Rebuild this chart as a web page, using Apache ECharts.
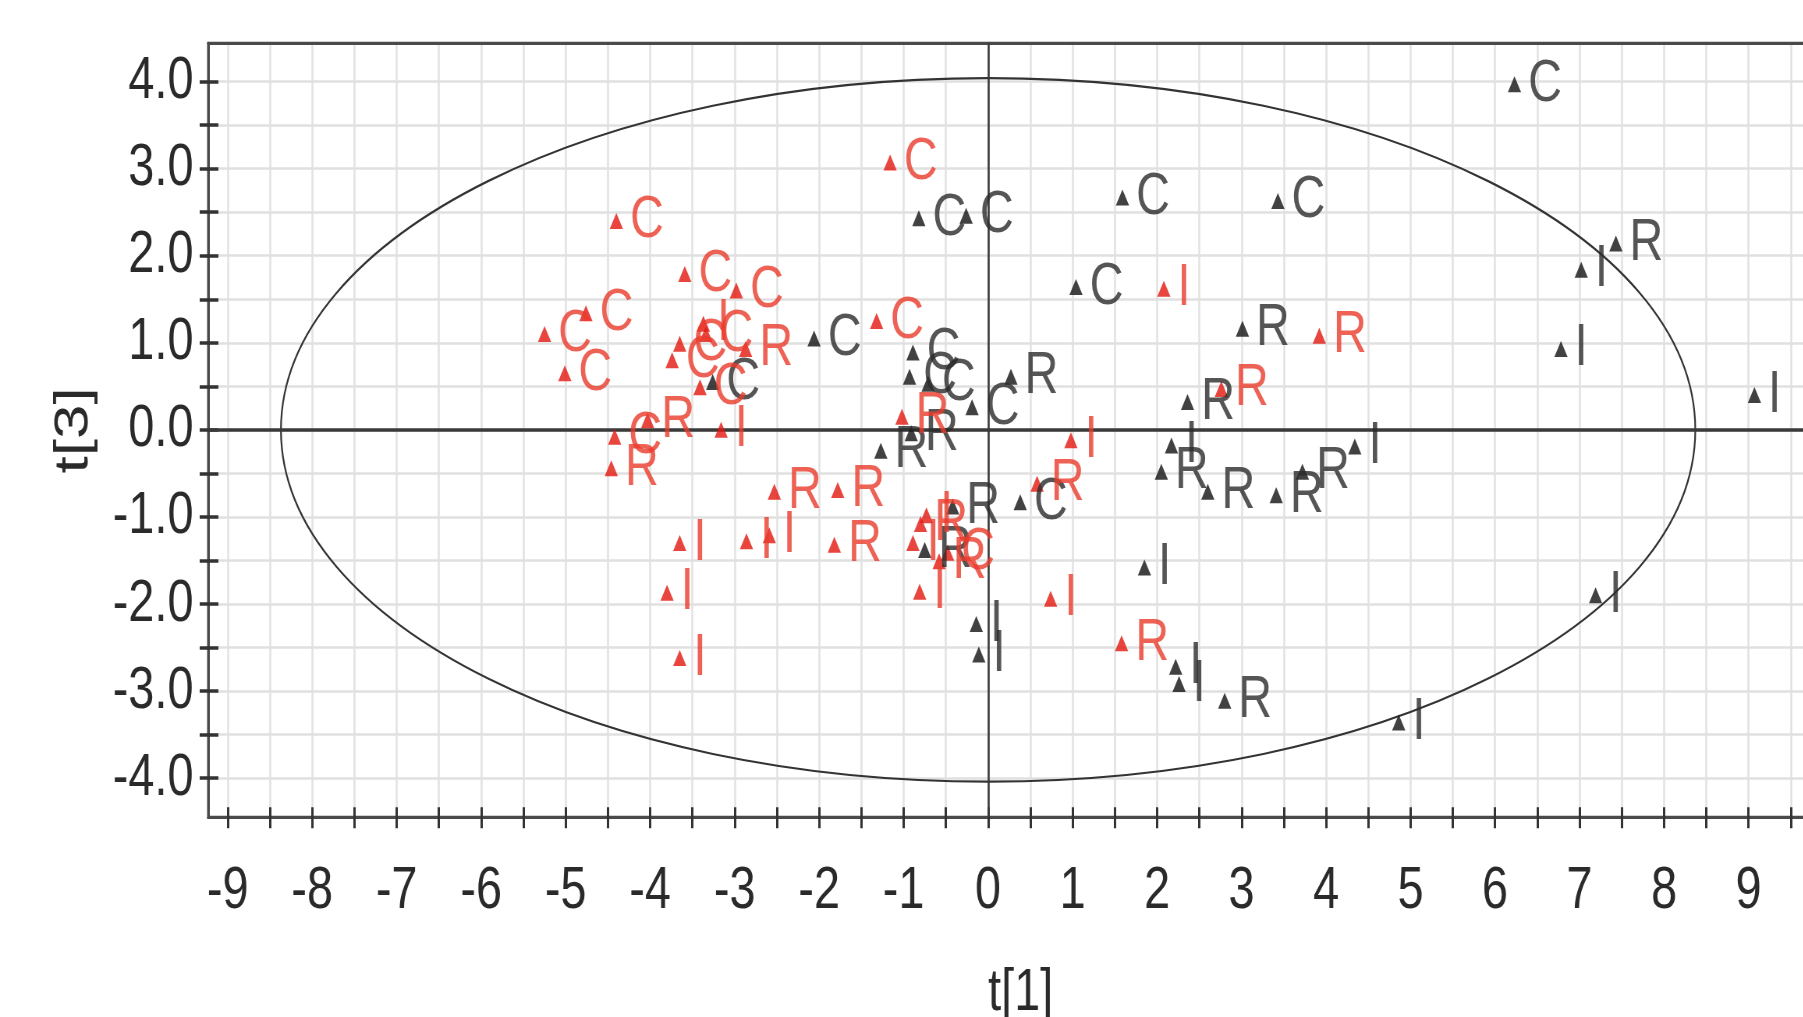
<!DOCTYPE html>
<html><head><meta charset="utf-8">
<script src="https://cdn.jsdelivr.net/npm/echarts@6/dist/echarts.min.js"></script>
<style>
html,body{margin:0;padding:0;background:#fff;overflow:hidden;width:1803px;height:1017px}
#chart{width:2312px;height:1017px;transform:scaleX(0.78);transform-origin:0 0}
</style>
</head><body><div id="chart"></div>
<script>
// Group 1 (red)
const redT1 = [-4.40,-3.59,-2.98,-4.76,-5.25,-5.01,-3.37,-3.34,-3.65,-3.74,-3.41,-2.87,-4.03,-4.42,-4.46,-3.16,-2.53,-2.86,-2.59,-3.65,-3.80,-3.65,-1.16,-1.32,-1.02,0.98,-1.78,-1.82,0.58,0.74,-0.73,-0.80,-0.89,-0.58,-0.48,-0.81,2.08,3.92,2.76,1.58];
const redT3 = [2.40,1.79,1.60,1.34,1.10,0.65,1.22,1.10,0.99,0.80,0.49,0.93,0.11,-0.08,-0.44,0.00,-0.71,-1.28,-1.21,-1.30,-1.87,-2.62,3.07,1.25,0.15,-0.12,-0.69,-1.32,-0.62,-1.94,-0.98,-1.08,-1.30,-1.51,-1.41,-1.86,1.62,1.08,0.47,-2.45];
const redClass = ['C','C','C','C','C','C','I','C','C','C','C','R','R','C','R','I','R','I','I','I','I','I','C','C','R','I','R','R','R','I','I','R','I','R','C','I','I','R','R','R'];
// Group 2 (black)
const blackT1 = [6.23,-0.82,-0.26,1.59,3.43,7.02,7.43,1.04,3.01,6.78,9.07,-2.06,-3.26,-0.89,-0.93,-0.71,-0.19,0.27,2.36,-1.27,-0.91,2.17,2.05,2.60,3.41,3.72,4.34,0.38,-0.42,-0.75,1.85,7.19,-0.14,-0.11,2.22,2.26,2.80,4.86];
const blackT3 = [3.97,2.43,2.46,2.67,2.63,1.84,2.14,1.64,1.16,0.93,0.40,1.05,0.55,0.89,0.61,0.53,0.26,0.61,0.32,-0.24,-0.04,-0.18,-0.48,-0.71,-0.75,-0.48,-0.19,-0.83,-0.88,-1.38,-1.58,-1.90,-2.23,-2.58,-2.72,-2.92,-3.11,-3.36];
const blackClass = ['C','C','C','C','C','I','R','C','R','I','I','C','C','C','C','C','C','R','R','R','R','I','R','R','R','R','I','C','R','R','I','I','I','I','I','I','R','I'];
// Axis tick labels
const xTickLabels = [-9,-8,-7,-6,-5,-4,-3,-2,-1,0,1,2,3,4,5,6,7,8,9];
const yTickLabels = ['-4.0','-3.0','-2.0','-1.0','0.0','1.0','2.0','3.0','4.0'];
// Hotelling ellipse semi-axes (t[1], t[3])
const ellipseAxes = [8.37, 4.04];

const FONT = "'Liberation Sans',Arial,Helvetica,sans-serif";
const isInt = v => Math.abs(v - Math.round(v)) < 1e-6;
const X_MIN = -9.23, X_MAX = 10, Y_MIN = -4.45, Y_MAX = 4.44;

// tick mark positions every half unit (labels only on whole units)
const xTickMarks = []; for (let k = -18; k <= 20; k++) xTickMarks.push(k / 2);
const yTickMarks = []; for (let k = -8; k <= 8; k++) yTickMarks.push(k / 2);

function pts(xs, ys, ls) { return xs.map((x, i) => [x, ys[i], ls[i]]); }

const chart = echarts.init(document.getElementById('chart'), null, {renderer: 'canvas'});
const xBase = {type:'value', min:X_MIN, max:X_MAX, splitNumber:38, minInterval:0.5, maxInterval:0.5, position:'bottom'};
const yBase = {type:'value', min:Y_MIN, max:Y_MAX, splitNumber:18, minInterval:0.5, maxInterval:0.5, position:'left'};

function scatter(name, data, color, labelColor) {
  return {
    name, type:'scatter', data, symbol:'triangle', symbolSize:[17,16], z:5,
    itemStyle:{color},
    label:{show:true, position:'right', distance:9, formatter:p => p.data[2], color:labelColor,
           fontSize:60, fontFamily:FONT},
    emphasis:{disabled:true}
  };
}

chart.setOption({
  animation:false,
  backgroundColor:'#fff',
  grid:{left:267, top:43.3, width:2083, height:774, show:true, borderColor:'#4a4a4a', borderWidth:3,
        backgroundColor:'transparent', containLabel:false, outerBoundsMode:'none'},
  xAxis:[
    Object.assign({}, xBase, {
      name:'t[1]', nameLocation:'middle', nameGap:146,
      nameTextStyle:{fontSize:60, color:'#2a2a2a', fontFamily:FONT},
      axisLine:{show:true, onZero:false, lineStyle:{color:'#4a4a4a', width:3}},
      axisTick:{show:true, inside:false, length:11, customValues:xTickMarks, lineStyle:{color:'#333', width:3}},
      axisLabel:{margin:44, fontSize:60, color:'#2a2a2a', fontFamily:FONT,
                 formatter:v => (isInt(v) && xTickLabels.indexOf(Math.round(v)) >= 0) ? String(Math.round(v)) : ''},
      splitLine:{show:true, lineStyle:{color:'#e2e2e2', width:2.5}}
    }),
    Object.assign({}, xBase, {
      axisLine:{show:false, onZero:false},
      axisTick:{show:true, inside:true, length:10, customValues:xTickMarks, lineStyle:{color:'#333', width:3}},
      axisLabel:{show:false}, splitLine:{show:false}
    }),
    Object.assign({}, xBase, {
      position:'top',
      axisLine:{show:true, onZero:false, lineStyle:{color:'#4a4a4a', width:3}},
      axisTick:{show:false}, axisLabel:{show:false}, splitLine:{show:false}
    })
  ],
  yAxis:[
    Object.assign({}, yBase, {
      name:'t[3]', nameLocation:'middle', nameGap:141, nameRotate:90,
      nameTextStyle:{fontSize:62, color:'#2a2a2a', fontFamily:FONT},
      axisLine:{show:true, onZero:false, lineStyle:{color:'#4a4a4a', width:3}},
      axisTick:{show:true, inside:false, length:11, customValues:yTickMarks, lineStyle:{color:'#333', width:3.5}},
      axisLabel:{margin:19, fontSize:60, color:'#2a2a2a', fontFamily:FONT, padding:[9,0,0,0],
                 formatter:v => {
                   if (!isInt(v)) return '';
                   const s = (Math.round(v)).toFixed(1);
                   return yTickLabels.indexOf(s) >= 0 ? s : '';
                 }},
      splitLine:{show:true, lineStyle:{color:'#e0e0e0', width:2.5}}
    }),
    Object.assign({}, yBase, {
      axisLine:{show:false, onZero:false},
      axisTick:{show:true, inside:true, length:13, customValues:yTickMarks, lineStyle:{color:'#333', width:3.5}},
      axisLabel:{show:false}, splitLine:{show:false}
    })
  ],
  series:[
    {
      type:'custom', silent:true, z:2, data:[[0,0]],
      renderItem:(params, api) => {
        const c = api.coord([0,0]);
        const px = api.coord([ellipseAxes[0],0]);
        const py = api.coord([0,ellipseAxes[1]]);
        return {type:'ellipse', shape:{cx:c[0], cy:c[1], rx:Math.abs(px[0]-c[0]), ry:Math.abs(c[1]-py[1])},
                style:{fill:'none', stroke:'#333', lineWidth:2.2}};
      }
    },
    {
      type:'scatter', data:[], z:3, silent:true,
      markLine:{silent:true, symbol:['none','none'], label:{show:false}, animation:false,
        data:[
          {xAxis:0, lineStyle:{type:'solid', color:'#3a3a3a', width:2.6}},
          {yAxis:0, lineStyle:{type:'solid', color:'#3a3a3a', width:3.5}}
        ]}
    },
    scatter('black', pts(blackT1, blackT3, blackClass), '#111', '#2a2a2a'),
    scatter('red', pts(redT1, redT3, redClass), '#e3170f', '#ea3b2c')
  ]
});
</script></body></html>
